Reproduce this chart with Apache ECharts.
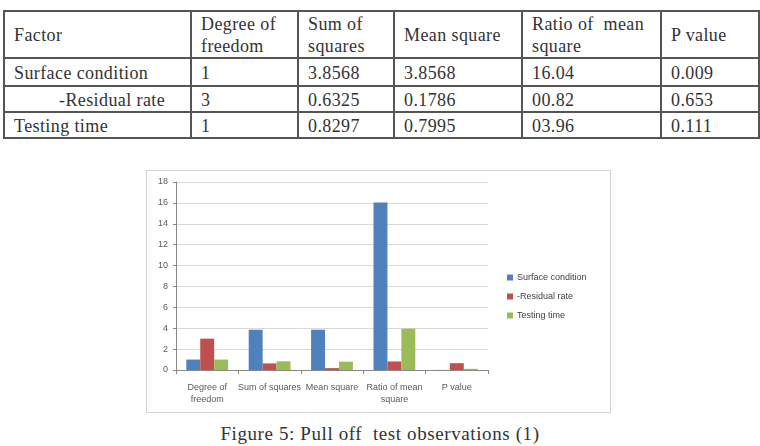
<!DOCTYPE html>
<html>
<head>
<meta charset="utf-8">
<script src="https://cdn.jsdelivr.net/npm/echarts@6/dist/echarts.min.js"></script>
<style>
  html, body { margin: 0; padding: 0; background: #fff; }
  body { width: 760px; height: 446px; position: relative; overflow: hidden; }
  table.anova {
    position: absolute; left: 3px; top: 10px;
    border-collapse: collapse;
    font-family: "Liberation Serif", serif; font-size: 18px; color: #333;
    letter-spacing: 0.4px;
  }
  table.anova td {
    border: 2px solid #555; padding: 1px 0 0 9px; line-height: 22px;
    vertical-align: middle;
  }
  .chart-frame {
    position: absolute; left: 146px; top: 170px; width: 463px; height: 241px;
    border: 1px solid #d4d4d4;
  }
  #chart { width: 463px; height: 241px; }
  .caption {
    position: absolute; left: 0; width: 760px; top: 423px; text-align: center;
    font-family: "Liberation Serif", serif; font-size: 19px; color: #333;
    letter-spacing: 0.6px;
  }
</style>
</head>
<body>
<table class="anova" id="tbl"></table>
<div class="chart-frame"><div id="chart"></div></div>
<div class="caption">Figure 5: Pull off&nbsp; test observations (1)</div>
<script>
// table text
var headers = ['Factor', 'Degree of<br>freedom', 'Sum of<br>squares', 'Mean square', 'Ratio of&nbsp; mean<br>square', 'P value'];
var rowNames = ['Surface condition', '-Residual rate', 'Testing time'];
var rowCells = [
  ['1', '3.8568', '3.8568', '16.04', '0.009'],
  ['3', '0.6325', '0.1786', '00.82', '0.653'],
  ['1', '0.8297', '0.7995', '03.96', '0.111']
];
var colWidths = [187, 107, 96, 128, 139, 98];
var rowHeights = [47, 28, 26, 26];

// chart data
var categories = ['Degree of\nfreedom', 'Sum of squares', 'Mean square', 'Ratio of mean\nsquare', 'P value'];
var surfaceCondition = [1, 3.8568, 3.8568, 16.04, 0.009];
var residualRate = [3, 0.6325, 0.1786, 0.82, 0.653];
var testingTime = [1, 0.8297, 0.7995, 3.96, 0.111];

var tbl = document.getElementById('tbl');
var html = '<tr style="height:' + rowHeights[0] + 'px">';
headers.forEach(function (h, i) {
  html += '<td style="width:' + (colWidths[i] - 11) + 'px">' + h + '</td>';
});
html += '</tr>';
rowNames.forEach(function (name, r) {
  html += '<tr style="height:' + rowHeights[r + 1] + 'px">';
  var pad = r === 1 ? ' style="padding-left:54px"' : '';
  html += '<td' + pad + '>' + name + '</td>';
  rowCells[r].forEach(function (c) { html += '<td>' + c + '</td>'; });
  html += '</tr>';
});
tbl.innerHTML = html;

var myChart = echarts.init(document.getElementById('chart'));
myChart.setOption({
  animation: false,
  textStyle: { fontFamily: 'Liberation Sans' },
  grid: { left: 29, right: 122, top: 11, bottom: 42 },
  legend: {
    orient: 'vertical',
    left: 355,
    top: 97,
    itemWidth: 6,
    itemHeight: 6,
    itemGap: 10,
    icon: 'rect',
    textStyle: { fontSize: 9, color: '#404040', padding: [0, 0, 0, -1] },
    data: ['Surface condition', '-Residual rate', 'Testing time']
  },
  xAxis: {
    type: 'category',
    data: categories,
    axisLine: { lineStyle: { color: '#888' } },
    axisTick: { show: true, length: 4, lineStyle: { color: '#888' } },
    axisLabel: { interval: 0, color: '#595959', fontSize: 9, lineHeight: 12, margin: 12 }
  },
  yAxis: {
    type: 'value',
    min: 0,
    max: 18,
    interval: 2,
    axisLine: { show: true, lineStyle: { color: '#888' } },
    axisTick: { show: true, length: 3, lineStyle: { color: '#888' } },
    axisLabel: { color: '#595959', fontSize: 9, margin: 8 },
    splitLine: { lineStyle: { color: '#d9d9d9' } }
  },
  series: [
    { name: 'Surface condition', type: 'bar', data: surfaceCondition, barGap: '0%', barCategoryGap: '33%', itemStyle: { color: '#4F81BD' } },
    { name: '-Residual rate', type: 'bar', data: residualRate, barGap: '0%', barCategoryGap: '33%', itemStyle: { color: '#C0504D' } },
    { name: 'Testing time', type: 'bar', data: testingTime, barGap: '0%', barCategoryGap: '33%', itemStyle: { color: '#9BBB59' } }
  ]
});
</script>
</body>
</html>
